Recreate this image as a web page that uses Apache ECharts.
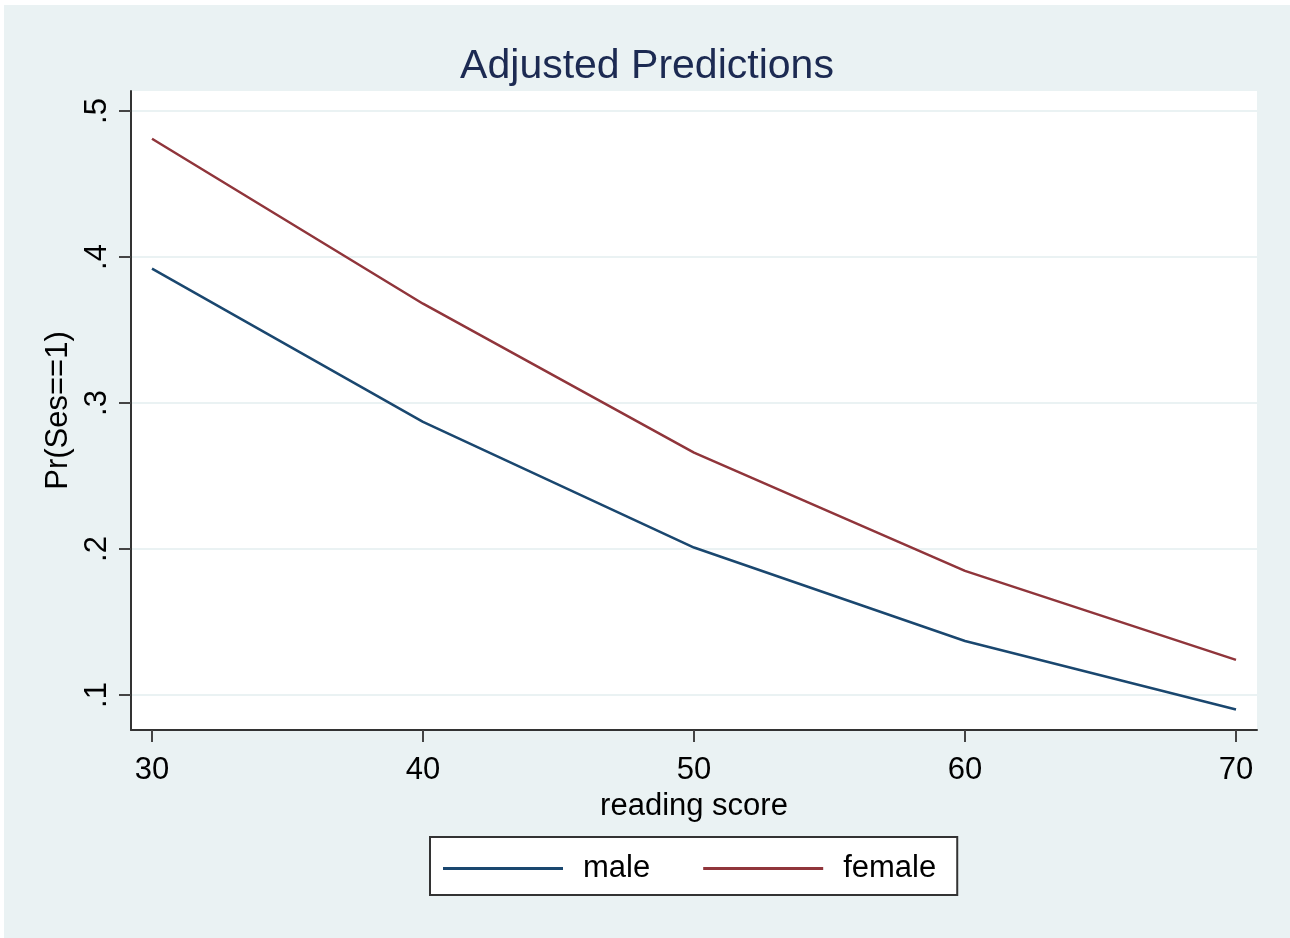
<!DOCTYPE html>
<html>
<head>
<meta charset="utf-8">
<script src="https://cdn.jsdelivr.net/npm/echarts@6/dist/echarts.min.js"></script>
<style>
html,body{margin:0;padding:0;background:#ffffff;}
#chart{position:absolute;left:4px;top:5px;width:1286px;height:933px;}
</style>
</head>
<body>
<div id="chart"></div>
<script>
const readingScores = [30, 40, 50, 60, 70];
const maleValues = [0.392, 0.287, 0.201, 0.137, 0.090];
const femaleValues = [0.481, 0.368, 0.266, 0.185, 0.124];
const xTickValues = [30, 40, 50, 60, 70];
const yTickValues = [0.1, 0.2, 0.3, 0.4, 0.5];
const yTickLabels = ['.1', '.2', '.3', '.4', '.5'];
const seriesNames = ['male', 'female'];
const seriesColors = ['#1a476f', '#90353b'];

const FONT = 'Liberation Sans, Arial, sans-serif';
const chart = echarts.init(document.getElementById('chart'));
const toPairs = (xs, ys) => xs.map((x, i) => [x, ys[i]]);

chart.setOption({
  backgroundColor: '#eaf2f3',
  animation: false,
  title: {
    text: 'Adjusted Predictions',
    left: 'center',
    top: 36,
    textStyle: { fontFamily: FONT, fontSize: 41, fontWeight: 'normal', color: '#1c2a52' }
  },
  grid: {
    left: 127, top: 86, right: 33, bottom: 208,
    show: true, backgroundColor: '#ffffff', borderWidth: 0,
    containLabel: false
  },
  legend: {
    left: 426, top: 832,
    orient: 'horizontal',
    backgroundColor: '#ffffff',
    borderColor: '#333333',
    borderWidth: 2,
    borderRadius: 0,
    padding: [16, 21, 11, 13],
    itemWidth: 120,
    itemHeight: 3,
    itemGap: 53,
    textStyle: { fontFamily: FONT, fontSize: 31, color: '#000000', padding: [0, 0, 0, 15] },
    data: seriesNames.map(n => ({ name: n, icon: 'rect' }))
  },
  xAxis: {
    type: 'value',
    min: 29.225,
    max: 70.775,
    name: 'reading score',
    nameLocation: 'middle',
    nameGap: 59,
    nameTextStyle: { fontFamily: FONT, fontSize: 31, color: '#000000' },
    axisLine: { show: true, onZero: false, lineStyle: { color: '#333333', width: 2 } },
    axisTick: { show: true, length: 12, customValues: xTickValues, lineStyle: { color: '#444444', width: 2 } },
    axisLabel: { customValues: xTickValues, margin: 25, fontFamily: FONT, fontSize: 31, color: '#000000' },
    splitLine: { show: false }
  },
  yAxis: {
    type: 'value',
    min: 0.076,
    max: 0.5137,
    name: 'Pr(Ses==1)',
    nameLocation: 'middle',
    nameRotate: 90,
    nameGap: 51,
    nameTextStyle: { fontFamily: FONT, fontSize: 31, color: '#000000' },
    axisLine: { show: true, lineStyle: { color: '#333333', width: 2 } },
    axisTick: { show: true, length: 12, customValues: yTickValues, lineStyle: { color: '#444444', width: 2 } },
    axisLabel: {
      customValues: yTickValues,
      rotate: 90,
      margin: 18,
      fontFamily: FONT, fontSize: 31, color: '#000000',
      formatter: v => {
        const i = yTickValues.findIndex(t => Math.abs(t - v) < 1e-9);
        return i >= 0 ? yTickLabels[i] : '';
      }
    },
    splitLine: { show: true, lineStyle: { color: '#eaf2f3', width: 2 } }
  },
  series: [
    {
      name: seriesNames[0], type: 'line', symbol: 'none', showSymbol: false,
      data: toPairs(readingScores, maleValues),
      lineStyle: { color: seriesColors[0], width: 2.5 },
      itemStyle: { color: seriesColors[0] }
    },
    {
      name: seriesNames[1], type: 'line', symbol: 'none', showSymbol: false,
      data: toPairs(readingScores, femaleValues),
      lineStyle: { color: seriesColors[1], width: 2.5 },
      itemStyle: { color: seriesColors[1] }
    }
  ]
});
</script>
</body>
</html>
